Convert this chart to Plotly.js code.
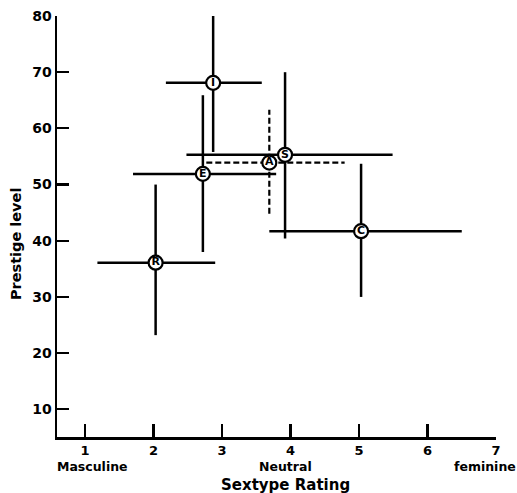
<!DOCTYPE html>
<html>
<head>
<meta charset="utf-8">
<script src="https://cdn.plot.ly/plotly-3.0.1.min.js"></script>
<style>html,body{margin:0;padding:0;background:#fff;}#chart{width:517px;height:493px;}</style>
</head>
<body>
<div id="chart"></div>
<script>
// Occupation groups
const labels = ["I", "E", "A", "S", "C", "R"];
// Sextype rating (x) and prestige level (y) means
const sextype = [2.87, 2.72, 3.69, 3.92, 5.03, 2.03];
const prestige = [68.1, 51.9, 53.9, 55.3, 41.7, 36.1];
// Ranges of the crosses
const sextypeLow  = [2.18, 1.70, 2.77, 2.48, 3.69, 1.18];
const sextypeHigh = [3.58, 3.79, 4.79, 5.49, 6.50, 2.90];
const prestigeLow  = [55.8, 38.0, 44.8, 40.4, 30.0, 23.2];
const prestigeHigh = [80.3, 65.9, 63.3, 70.0, 53.7, 50.0];
// Which groups are drawn dashed
const dashed = [false, false, true, false, false, false];
// Axis ticks and anchor labels
const xTicks = [1, 2, 3, 4, 5, 6, 7];
const yTicks = [10, 20, 30, 40, 50, 60, 70, 80];
const anchorPos = [1, 4, 7];
const anchorText = ["Masculine", "Neutral", "feminine"];

function crossLines(sel) {
  const xs = [], ys = [];
  for (let i = 0; i < labels.length; i++) {
    if (!sel(i)) continue;
    xs.push(sextypeLow[i], sextypeHigh[i], null, sextype[i], sextype[i], null);
    ys.push(prestige[i], prestige[i], null, prestigeLow[i], prestigeHigh[i], null);
  }
  return {xs, ys};
}
const solid = crossLines(i => !dashed[i]);
const dash = crossLines(i => dashed[i]);

const font = "DejaVu Sans, Arial, sans-serif";

const traces = [
  {x: solid.xs, y: solid.ys, type: "scatter", mode: "lines",
   line: {color: "#000", width: 2.5}, hoverinfo: "skip", connectgaps: false},
  {x: dash.xs, y: dash.ys, type: "scatter", mode: "lines",
   line: {color: "#000", width: 2.2, dash: "6px,3px"}, hoverinfo: "skip", connectgaps: false},
  {x: sextype, y: prestige, type: "scatter", mode: "markers+text",
   text: labels, textposition: "middle center",
   textfont: {family: font, size: 11, color: "#000", weight: "bold"},
   marker: {size: 14, color: "#fff", line: {color: "#000", width: 2.2}},
   cliponaxis: false}
];

const annotations = anchorText.map((t, i) => ({
  x: anchorPos[i], y: 0, xref: "x", yref: "paper", yanchor: "top",
  yshift: -20, xshift: i === 0 ? 7 : (i === 1 ? -5 : -11),
  text: t, showarrow: false,
  font: {family: font, size: 12.5, color: "#000", weight: "bold"}
}));
annotations.push({
  x: 3.92, y: 0, xref: "x", yref: "paper", yanchor: "top", yshift: -37,
  text: "Sextype Rating", showarrow: false,
  font: {family: font, size: 15, color: "#000", weight: "bold"}
});
annotations.push({
  x: 0, y: 39.4, xref: "paper", yref: "y", xanchor: "center",
  xshift: -41, textangle: -90,
  text: "Prestige level", showarrow: false,
  font: {family: font, size: 14.5, color: "#000", weight: "bold"}
});

const layout = {
  width: 517, height: 493,
  margin: {l: 57, r: 21, t: 16, b: 56},
  paper_bgcolor: "#fff", plot_bgcolor: "#fff",
  showlegend: false,
  font: {family: font, color: "#000"},
  xaxis: {
    range: [0.59, 7], tickvals: xTicks, ticktext: xTicks.map(String),
    ticks: "inside", ticklen: 13, tickwidth: 2.2, tickcolor: "#000",
    showline: true, linewidth: 2.5, linecolor: "#000",
    showgrid: false, zeroline: false,
    tickfont: {family: font, size: 13, color: "#000", weight: "bold"}
  },
  yaxis: {
    range: [5.07, 80], tickvals: yTicks, ticktext: yTicks.map(String),
    ticks: "inside", ticklen: 12, tickwidth: 2.2, tickcolor: "#000",
    showline: true, linewidth: 2.5, linecolor: "#000",
    showgrid: false, zeroline: false,
    tickfont: {family: font, size: 14, color: "#000", weight: "bold"}
  },
  annotations: annotations
};

Plotly.newPlot("chart", traces, layout, {displayModeBar: false, staticPlot: true});
</script>
</body>
</html>
